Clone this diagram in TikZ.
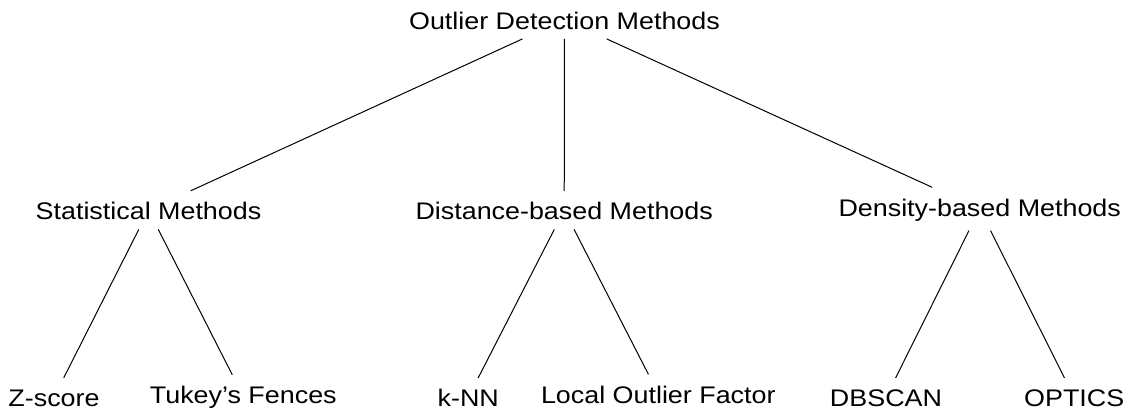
\documentclass[tikz,border=0pt]{standalone}
\usepackage{fontspec}
\setmainfont{Liberation Sans}[FakeStretch=1.12]
\begin{document}
\begin{tikzpicture}[x=1pt,y=-1pt,
  lbl/.style={anchor=base, inner xsep=4pt, inner ysep=9.5pt, text height=19pt,
              font=\fontsize{24}{28}\selectfont},
  edge/.style={line width=1pt, black}]
  \useasboundingbox (0,0) rectangle (1125,410);

  % root
  \node[lbl] (root) at (564.5,29) {Outlier Detection Methods};

  % method families
  \node[lbl] (stat) at (148.5,219.5) {Statistical Methods};
  \node[lbl] (dist) at (564.2,219.5) {Distance-based Methods};
  \node[lbl] (dens) at (979.7,216) {Density-based Methods};

  % individual techniques
  \node[lbl] (zscore) at (54,406.5) {Z-score};
  \node[lbl] (tukey)  at (243.3,403.5) {Tukey’s Fences};
  \node[lbl] (knn)    at (468.3,406.7) {k-NN};
  \node[lbl] (lof)    at (658.3,403) {Local Outlier Factor};
  \node[lbl] (dbscan) at (886,406.7) {DBSCAN};
  \node[lbl] (optics) at (1074.2,406.7) {OPTICS};

  % tree edges
  \draw[edge] (root) -- (stat);
  \draw[edge] (root) -- (dist);
  \draw[edge] (root) -- (dens);
  \draw[edge] (stat) -- (zscore);
  \draw[edge] (stat) -- (tukey);
  \draw[edge] (dist) -- (knn);
  \draw[edge] (dist) -- (lof);
  \draw[edge] (dens) -- (dbscan);
  \draw[edge] (dens) -- (optics);
\end{tikzpicture}
\end{document}
